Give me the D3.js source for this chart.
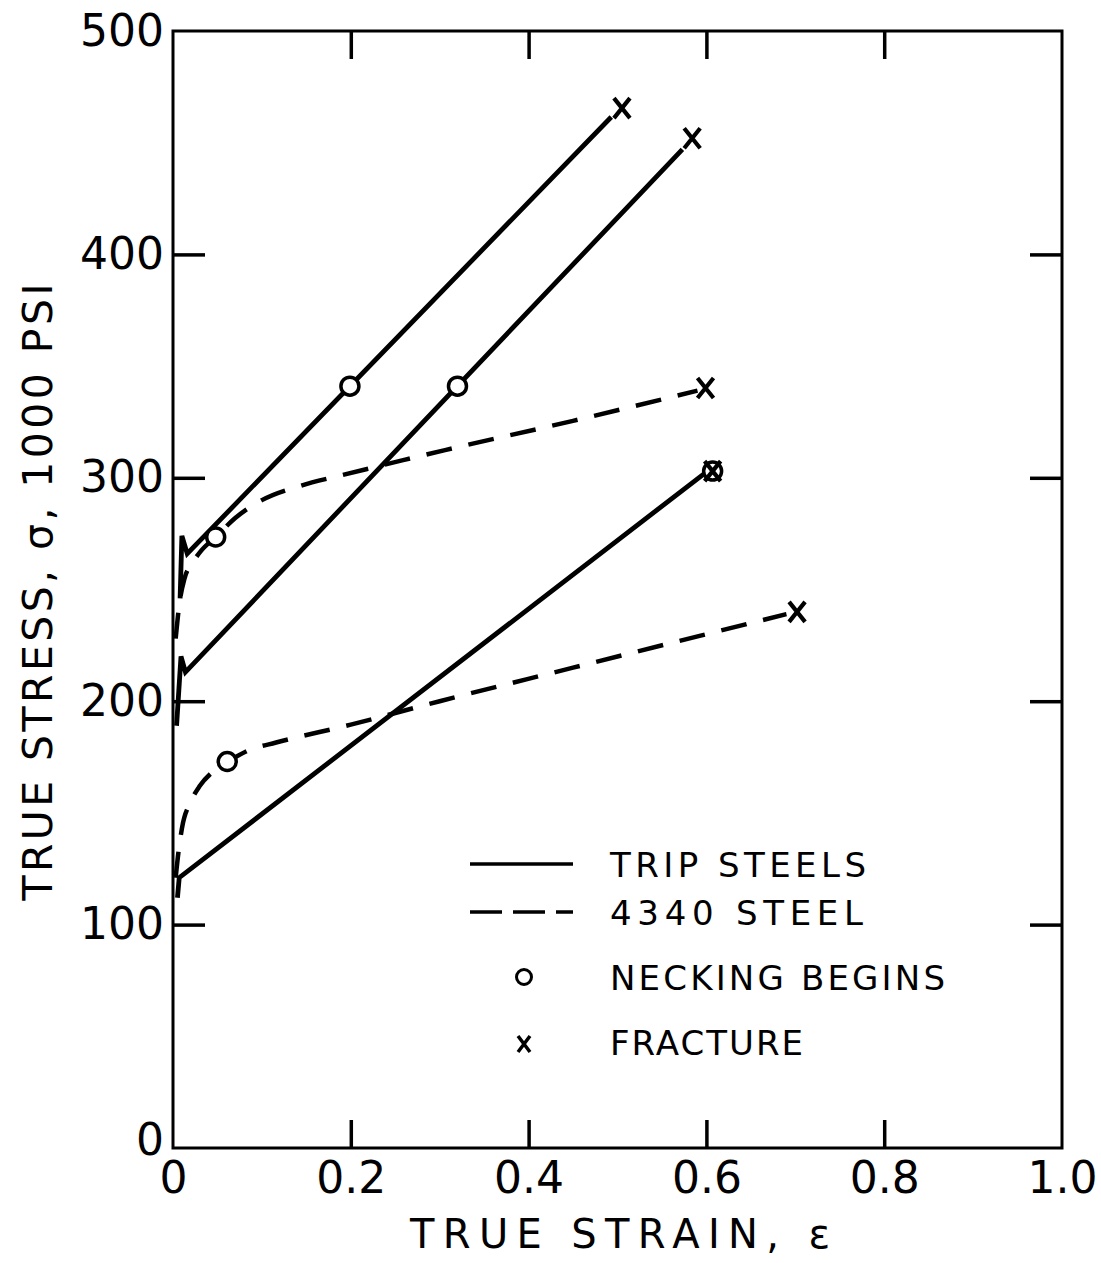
<!DOCTYPE html>
<html><head><meta charset="utf-8">
<script src="https://cdn.jsdelivr.net/npm/d3@7"></script>
<style>body{margin:0;background:#fff}svg{display:block}text{font-family:"DejaVu Sans",sans-serif;fill:#000}</style>
</head><body><svg id="c" width="1101" height="1263"></svg>
<script>
// ---- data ----
const xTickValues = [0, 0.2, 0.4, 0.6, 0.8, 1.0];
const xTickLabels = ["0", "0.2", "0.4", "0.6", "0.8", "1.0"];
const yTickValues = [0, 100, 200, 300, 400, 500];
const yTickLabels = ["0", "100", "200", "300", "400", "500"];
const innerTicksX = [0.2, 0.4, 0.6, 0.8];
const innerTicksY = [100, 200, 300, 400];

// TRIP steels (solid)  [strain, stress]
const trip1 = [[0.008, 246], [0.010, 274], [0.016, 266], [0.493, 461.5]];
const trip2 = [[0.004, 189], [0.009, 220], [0.014, 213], [0.573, 447]];
const trip3 = [[0.005, 112], [0.007, 121], [0.598, 302]];
// 4340 steel (dashed)
const steelA = [[0.003, 228], [0.007, 243], [0.013, 255], [0.022, 262], [0.032, 267.5], [0.048, 273.5], [0.07, 282], [0.1, 290], [0.144, 296.5], [0.188, 301], [0.229, 305], [0.26, 308], [0.306, 312.4], [0.45, 325.5], [0.59, 339]];
const steelB = [[0.003, 121], [0.006, 132], [0.01, 143], [0.02, 155], [0.03, 162], [0.045, 168.5], [0.062, 173], [0.085, 178], [0.116, 181.5], [0.2, 189.5], [0.3, 200], [0.45, 215], [0.6, 230], [0.69, 239]];
// necking begins (circles) and fracture (x)
const necking = [[0.199, 341], [0.32, 341], [0.607, 303], [0.048, 273.5], [0.061, 173]];
const fracture = [[0.505, 465.5], [0.584, 452], [0.607, 303], [0.599, 340.2], [0.702, 240]];
const legendItems = ["TRIP STEELS", "4340 STEEL", "NECKING BEGINS", "FRACTURE"];
const xTitle = "TRUE STRAIN, \u03b5";
const yTitle = "TRUE STRESS, \u03c3, 1000 PSI";

// ---- drawing ----
const svg = d3.select("#c");
const x = d3.scaleLinear().domain([0, 1]).range([173, 1062]);
const y = d3.scaleLinear().domain([0, 500]).range([1148, 31]);

// frame
svg.append("rect").attr("x", x(0)).attr("y", y(500))
  .attr("width", x(1) - x(0)).attr("height", y(0) - y(500))
  .attr("fill", "none").attr("stroke", "#000").attr("stroke-width", 3);

function tickAxis(g, axis) {
  g.call(axis);
  g.select(".domain").remove();
  g.selectAll(".tick line").attr("stroke", "#000").attr("stroke-width", 3.5);
}
// inward ticks on all four sides
svg.append("g").attr("transform", `translate(0,${y(0)})`)
  .call(g => tickAxis(g, d3.axisBottom(x).tickValues(innerTicksX).tickSize(-28).tickFormat("")));
svg.append("g").attr("transform", `translate(0,${y(500)})`)
  .call(g => tickAxis(g, d3.axisTop(x).tickValues(innerTicksX).tickSize(-28).tickFormat("")));
svg.append("g").attr("transform", `translate(${x(0)},0)`)
  .call(g => tickAxis(g, d3.axisLeft(y).tickValues(innerTicksY).tickSize(-32).tickFormat("")));
svg.append("g").attr("transform", `translate(${x(1)},0)`)
  .call(g => tickAxis(g, d3.axisRight(y).tickValues(innerTicksY).tickSize(-32).tickFormat("")));

// tick labels
const gx = svg.append("g").attr("transform", `translate(0,${y(0)})`)
  .call(d3.axisBottom(x).tickValues(xTickValues).tickSize(0).tickPadding(14)
    .tickFormat((d, i) => xTickLabels[i]));
gx.select(".domain").remove();
gx.selectAll("text").attr("font-size", 44).attr("font-family", "DejaVu Sans").attr("fill", "#000");
const gy = svg.append("g").attr("transform", `translate(${x(0)},0)`)
  .call(d3.axisLeft(y).tickValues(yTickValues).tickSize(0).tickPadding(9)
    .tickFormat((d, i) => yTickLabels[i]));
gy.select(".domain").remove();
gy.selectAll("text").attr("font-size", 44).attr("font-family", "DejaVu Sans").attr("fill", "#000");
gy.selectAll(".tick").filter(d => d === 0).select("text").attr("dy", "0.15em");

// axis titles
svg.append("text").attr("x", 620).attr("y", 1248).attr("text-anchor", "middle")
  .attr("font-size", 40).attr("textLength", 420).attr("lengthAdjust", "spacing").text(xTitle);
svg.append("text").attr("transform", "translate(52,592) rotate(-90)").attr("text-anchor", "middle")
  .attr("font-size", 41).attr("textLength", 617).attr("lengthAdjust", "spacing").text(yTitle);

// lines
const lineStraight = d3.line().x(d => x(d[0])).y(d => y(d[1]));
const lineCurve = d3.line().x(d => x(d[0])).y(d => y(d[1])).curve(d3.curveMonotoneX);
[trip1, trip2, trip3].forEach(s => {
  svg.append("path").attr("d", lineStraight(s)).attr("fill", "none")
    .attr("stroke", "#000").attr("stroke-width", 4.8).attr("stroke-linejoin", "miter");
});
[steelA, steelB].forEach(s => {
  svg.append("path").attr("d", lineCurve(s)).attr("fill", "none")
    .attr("stroke", "#000").attr("stroke-width", 4.5).attr("stroke-dasharray", "26,17");
});

// markers
svg.append("g").selectAll("circle").data(necking).join("circle")
  .attr("cx", d => x(d[0])).attr("cy", d => y(d[1])).attr("r", 9)
  .attr("fill", "#fff").attr("stroke", "#000").attr("stroke-width", 3.5);
function xMark(cx, cy, w, h) {
  return `M${cx - w},${cy - h}L${cx + w},${cy + h}M${cx + w},${cy - h}L${cx - w},${cy + h}`;
}
svg.append("g").selectAll("path").data(fracture).join("path")
  .attr("d", d => xMark(x(d[0]), y(d[1]), 8, 10))
  .attr("fill", "none").attr("stroke", "#000").attr("stroke-width", 4.2);

// legend
const lg = svg.append("g");
lg.append("line").attr("x1", 470).attr("x2", 573).attr("y1", 864).attr("y2", 864)
  .attr("stroke", "#000").attr("stroke-width", 3.5);
lg.append("line").attr("x1", 470).attr("x2", 573).attr("y1", 912).attr("y2", 912)
  .attr("stroke", "#000").attr("stroke-width", 3.5).attr("stroke-dasharray", "32,11");
lg.append("circle").attr("cx", 524).attr("cy", 977).attr("r", 7.5)
  .attr("fill", "#fff").attr("stroke", "#000").attr("stroke-width", 3);
lg.append("path").attr("d", xMark(524, 1044, 6, 8)).attr("stroke", "#000").attr("stroke-width", 3.5);
const lgY = [877, 925, 990, 1055];
const lgLen = [256, 253, 335, 193];
legendItems.forEach((t, i) => {
  lg.append("text").attr("x", 610).attr("y", lgY[i]).attr("font-size", 34)
    .attr("textLength", lgLen[i]).attr("lengthAdjust", "spacing").text(t);
});
</script></body></html>
